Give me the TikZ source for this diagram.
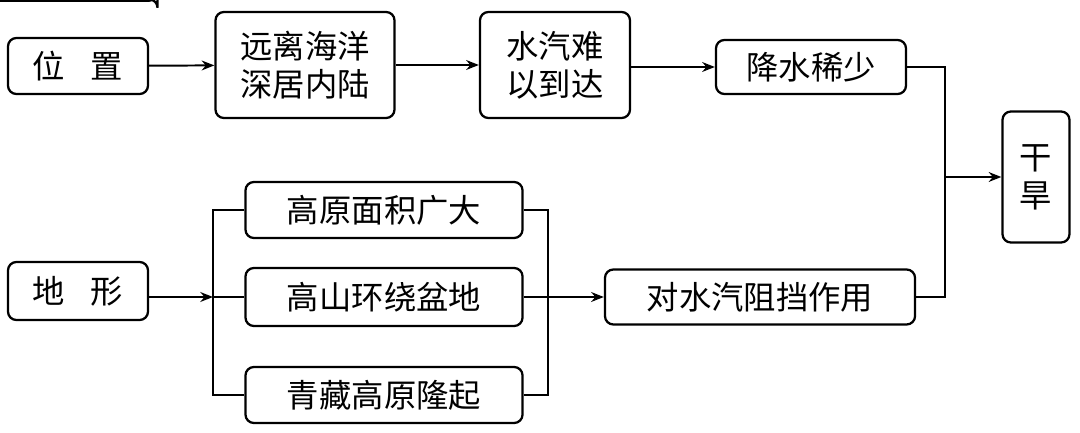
\documentclass[tikz,border=0pt]{standalone}
\usepackage{fontspec}
\setmainfont{Noto Sans CJK SC}
\usetikzlibrary{arrows.meta}
\begin{document}
\begin{tikzpicture}[x=0.025cm,y=-0.025cm,
 box/.style={draw,line width=1.6pt,rounded corners=6pt,inner sep=0pt,font=\fontsize{23}{27}\selectfont,align=center},
 ln/.style={line width=1.4pt},
 ar/.style={ln,-{Stealth[length=9pt,width=7pt]}}]
\useasboundingbox (0,0) rectangle (1080,433);
\node[box,minimum width=140\pgflinewidth,text width=0pt] at (0,0) {};
\node[box,minimum width=3.5cm,minimum height=1.4cm] (a) at (78,66) {位\hspace{0.8em}置};
\node[box,minimum width=4.475cm,minimum height=2.65cm] (b) at (305,65) {远离海洋\\深居内陆};
\node[box,minimum width=3.75cm,minimum height=2.65cm] (c) at (555,65) {水汽难\\以到达};
\node[box,minimum width=4.75cm,minimum height=1.35cm] (d) at (811,67) {降水稀少};
\node[box,minimum width=1.675cm,minimum height=3.275cm] (e) at (1036,177) {干\\旱};
\node[box,minimum width=3.5cm,minimum height=1.45cm] (f) at (78,291) {地\hspace{0.8em}形};
\node[box,minimum width=6.925cm,minimum height=1.4cm] (g1) at (384,210) {高原面积广大};
\node[box,minimum width=6.925cm,minimum height=1.45cm] (g2) at (384,297) {高山环绕盆地};
\node[box,minimum width=6.925cm,minimum height=1.4cm] (g3) at (384,395) {青藏高原隆起};
\node[box,minimum width=7.75cm,minimum height=1.375cm] (h) at (760,297) {对水汽阻挡作用};
\coordinate (jl) at (213,297);
\coordinate (jr) at (548,297);
\coordinate (m) at (945,177);
\draw[ar] (a) -- (b);
\draw[ar] (b.east|-c) -- (c);
\draw[ar] (c.east|-d) -- (d);
\draw[ln] (d.east) -| (m);
\draw[ln] (h.east) -| (m);
\draw[ar] (m) -- (e.west|-m);
\draw[ar] (f.east|-jl) -- (jl);
\draw[ln] (g1.west) -| (jl) |- (g3.west);
\draw[ln] (jl) -- (g2.west);
\draw[ln] (g1.east) -| (jr) |- (g3.east);
\draw[ln] (g2.east) -- (jr);
\draw[ar] (jr) -- (h.west);
\end{tikzpicture}
\end{document}
